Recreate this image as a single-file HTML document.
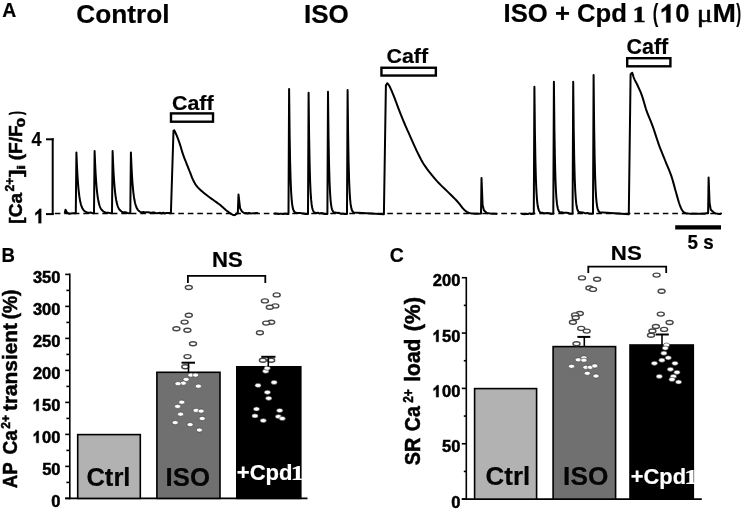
<!DOCTYPE html>
<html><head><meta charset="utf-8"><style>
html,body{margin:0;padding:0;background:#fff;}
svg{display:block;will-change:transform;filter:blur(0.3px);}
text{font-family:"Liberation Sans",sans-serif;font-weight:bold;stroke:#000;stroke-width:0.2px;}
text[fill="#fff"]{stroke:#fff;}
.sf{font-family:"Liberation Serif",serif;}
.rg{font-weight:normal;stroke-width:1px;}
.hv{stroke-width:0.6px;}
.mu{font-weight:normal;stroke-width:0.5px;}
.tk text,text.tk{stroke-width:0.5px;}
</style></head><body>
<svg width="744" height="510" viewBox="0 0 744 510">
<rect width="744" height="510" fill="#fff"/>
<g stroke="#000" stroke-width="2" fill="none">
<line x1="52.7" y1="138.3" x2="52.7" y2="215"/>
<line x1="46" y1="139.3" x2="53.7" y2="139.3"/>
<line x1="46" y1="214.1" x2="53.7" y2="214.1"/>
</g>
<g class="tk" transform="translate(21.7,223.6) rotate(-90)"><text x="-0.05" y="0" font-size="19" textLength="30.73" lengthAdjust="spacingAndGlyphs">[Ca</text><text x="32.07" y="-8.1" font-size="12.5" textLength="13.95" lengthAdjust="spacingAndGlyphs">2+</text><text x="46.62" y="0" font-size="19" textLength="7.41" lengthAdjust="spacingAndGlyphs">]</text><text x="53.98" y="3.3" font-size="11.5" textLength="4.85" lengthAdjust="spacingAndGlyphs">i</text><text x="63.25" y="0" font-size="19" textLength="34.92" lengthAdjust="spacingAndGlyphs">(F/F</text><text x="96.43" y="3.3" font-size="11.5" textLength="9.37" lengthAdjust="spacingAndGlyphs">0</text><text x="108.57" y="0" font-size="19" textLength="3.92" lengthAdjust="spacingAndGlyphs">)</text></g>
<line x1="54.8" y1="213.5" x2="722" y2="213.5" stroke="#000" stroke-width="1.3" stroke-dasharray="5.6 3.9"/>
<g stroke="#000" stroke-width="2" fill="none" stroke-linejoin="round">
<path d="M64.7 213.4 L65.5 209.8 L66.8 212.2 L69 213.8 L70.93 213.47 L72.87 213.15 L74.8 213.3 L75.8 213.3 L76.4 152.5 L76.9 164.6 L77.4 174.22 L77.9 181.88 L78.4 187.98 L78.9 192.84 L79.4 196.73 L79.9 199.84 L80.4 202.34 L80.9 204.34 L81.4 205.95 L81.9 207.25 L82.4 208.3 L82.9 209.16 L83.4 209.85 L83.9 210.42 L84.4 210.88 L84.9 211.26 L85.4 211.58 L85.9 211.84 L86.4 212.05 L86.9 212.23 L87.4 212.38 L89.27 212.82 L91.13 212.61 L93 213.3 L94 213.3 L94.6 151 L95.1 163.4 L95.6 173.26 L96.1 181.1 L96.6 187.35 L97.1 192.34 L97.6 196.32 L98.1 199.51 L98.6 202.07 L99.1 204.12 L99.6 205.77 L100.1 207.1 L100.6 208.18 L101.1 209.06 L101.6 209.77 L102.1 210.35 L102.6 210.82 L103.1 211.21 L103.6 211.53 L104.1 211.8 L104.6 212.02 L105.1 212.21 L105.6 212.36 L107.4 212.71 L109.2 212.87 L111 213.3 L112 213.3 L112.6 151 L113.1 163.4 L113.6 173.26 L114.1 181.1 L114.6 187.35 L115.1 192.34 L115.6 196.32 L116.1 199.51 L116.6 202.07 L117.1 204.12 L117.6 205.77 L118.1 207.1 L118.6 208.18 L119.1 209.06 L119.6 209.77 L120.1 210.35 L120.6 210.82 L121.1 211.21 L121.6 211.53 L122.1 211.8 L122.6 212.02 L123.1 212.21 L123.6 212.36 L125.5 212.28 L127.4 212.99 L129.3 213.3 L130.3 213.3 L130.9 152.4 L131.4 164.52 L131.9 174.16 L132.4 181.83 L132.9 187.94 L133.4 192.81 L133.9 196.7 L134.4 199.82 L134.9 202.32 L135.4 204.32 L135.9 205.94 L136.4 207.24 L136.9 208.3 L137.4 209.15 L137.9 209.85 L138.4 210.41 L138.9 210.88 L139.4 211.26 L139.9 211.57 L140.4 211.83 L140.9 212.05 L141.4 212.23 L141.9 212.38 L143.43 212.01 L144.95 212.42 L146.48 212.14 L148.01 212.21 L149.53 212.56 L151.06 212.97 L152.58 212.38 L154.11 212.52 L155.64 212.93 L157.16 213.27 L158.69 212.98 L160.22 212.87 L161.74 213.44 L163.27 212.65 L164.79 213.43 L166.32 212.97 L167.85 212.88 L169.37 212.91 L170.9 213.3 L173.5 130.8 L174.2 130.2 L174.48 130.77 L174.86 131.54 L175.32 132.46 L175.81 133.49 L176.32 134.58 L176.8 135.7 L177.26 136.86 L177.74 138.09 L178.23 139.38 L178.71 140.74 L179.21 142.15 L179.7 143.6 L180.2 145.15 L180.7 146.8 L181.2 148.51 L181.7 150.21 L182.2 151.86 L182.7 153.4 L183.18 154.79 L183.64 156.07 L184.09 157.3 L184.56 158.53 L185.06 159.81 L185.6 161.2 L186.19 162.72 L186.82 164.32 L187.48 165.97 L188.16 167.66 L188.83 169.34 L189.5 171 L190.16 172.68 L190.83 174.4 L191.5 176.13 L192.17 177.81 L192.84 179.38 L193.5 180.8 L194.13 182.04 L194.73 183.13 L195.33 184.12 L195.96 185.05 L196.64 185.96 L197.4 186.9 L198.27 187.86 L199.22 188.81 L200.23 189.74 L201.27 190.66 L202.3 191.54 L203.3 192.4 L204.27 193.22 L205.24 194.01 L206.2 194.78 L207.16 195.53 L208.13 196.27 L209.1 197 L210.08 197.72 L211.06 198.42 L212.04 199.11 L213.03 199.8 L214.02 200.49 L215 201.2 L215.98 201.91 L216.97 202.62 L217.95 203.34 L218.93 204.07 L219.92 204.82 L220.9 205.6 L221.87 206.43 L222.83 207.31 L223.79 208.21 L224.77 209.1 L225.76 209.98 L226.8 210.8 L227.93 211.64 L229.14 212.51 L230.38 213.37 L231.58 214.13 L232.68 214.73 L233.6 215.1 L234.35 215.17 L234.99 214.97 L235.53 214.62 L235.96 214.2 L236.32 213.83 L236.6 213.6 L237.8 213.4 L238.5 194.5 L240.1 208.3 L242 211.5 L244.4 213.2 L245.91 213.04 L247.42 213.51 L248.93 212.95 L250.44 213.32 L251.96 213.38 L253.47 213.15 L254.98 213.32 L256.49 212.9 L258 213.3"/>
<path d="M274 213.9 L275.5 213.5 L277 213.64 L278.5 214.06 L280 213.83 L281.5 213.73 L283 213.98 L284.5 213.86 L286 213.72 L287.5 213.9 L288.5 213.9 L289.1 89 L289.6 133.3 L290.1 161.62 L290.6 179.77 L291.1 191.43 L291.6 198.96 L292.1 203.84 L292.6 207.03 L293.1 209.13 L293.6 210.52 L294.1 211.46 L294.6 212.1 L295.1 212.55 L296.8 213.01 L298.5 213.11 L300.2 212.9 L301.9 213.39 L303.6 213.54 L305.3 214.04 L307 213.9 L308 213.9 L308.6 92.7 L309.1 135.69 L309.6 163.17 L310.1 180.78 L310.6 192.1 L311.1 199.4 L311.6 204.14 L312.1 207.23 L312.6 209.27 L313.1 210.62 L313.6 211.53 L314.1 212.16 L314.6 212.59 L316.29 212.98 L317.97 212.77 L319.66 213.58 L321.34 212.99 L323.03 213.45 L324.71 213.94 L326.4 213.9 L327.4 213.9 L328 91.7 L328.5 135.04 L329 162.75 L329.5 180.51 L330 191.92 L330.5 199.28 L331 204.06 L331.5 207.18 L332 209.23 L332.5 210.6 L333 211.51 L333.5 212.14 L334 212.58 L335.5 212.43 L337 212.9 L338.5 212.66 L340 213.39 L341.5 213.64 L343 213.63 L344.5 214.07 L346 213.9 L347 213.9 L347.6 90 L348.1 133.94 L348.6 162.04 L349.1 180.04 L349.6 191.61 L350.1 199.08 L350.6 203.92 L351.1 207.08 L351.6 209.17 L352.1 210.55 L352.6 211.48 L353.1 212.12 L353.6 212.56 L383.9 214.3 L385.9 85.3 L387.4 83.2 L387.64 83.51 L387.95 83.89 L388.32 84.36 L388.76 84.97 L389.26 85.77 L389.8 86.8 L390.42 88.11 L391.12 89.69 L391.88 91.44 L392.66 93.31 L393.44 95.22 L394.2 97.1 L394.92 98.93 L395.61 100.79 L396.31 102.67 L397.02 104.63 L397.78 106.66 L398.6 108.8 L399.5 111.09 L400.46 113.53 L401.46 116.05 L402.48 118.59 L403.5 121.1 L404.5 123.5 L405.47 125.77 L406.41 127.93 L407.36 130.06 L408.33 132.21 L409.34 134.44 L410.4 136.8 L411.53 139.35 L412.73 142.06 L413.96 144.85 L415.21 147.64 L416.46 150.35 L417.7 152.9 L418.88 155.26 L420 157.49 L421.12 159.64 L422.31 161.77 L423.62 163.93 L425.1 166.2 L426.8 168.6 L428.68 171.11 L430.68 173.65 L432.73 176.17 L434.79 178.61 L436.8 180.9 L438.8 183.06 L440.84 185.13 L442.88 187.11 L444.89 189.02 L446.81 190.85 L448.6 192.6 L450.26 194.25 L451.81 195.78 L453.27 197.23 L454.68 198.64 L456.05 200.05 L457.4 201.5 L458.73 203.04 L460.03 204.66 L461.29 206.28 L462.5 207.81 L463.68 209.18 L464.8 210.3 L465.84 211.15 L466.79 211.79 L467.7 212.26 L468.61 212.62 L469.56 212.92 L470.6 213.2 L471.83 213.44 L473.22 213.59 L474.66 213.68 L476.02 213.73 L477.18 213.76 L478 213.8 L481 213.4 L481.5 177.9 L482.6 205 L483.9 210.3 L487 213.2 L488.7 213.15 L490.4 213.61 L492.1 213.63 L493.8 213.74 L495.5 213.74 L497.2 213.9"/>
<path d="M521.4 213.8 L523.03 214.11 L524.66 214.2 L526.29 213.78 L527.91 213.95 L529.54 213.4 L531.17 213.98 L532.8 213.8 L533.8 213.8 L534.4 86.7 L534.9 131.78 L535.4 160.6 L535.9 179.07 L536.4 190.94 L536.9 198.6 L537.4 203.57 L537.9 206.81 L538.4 208.94 L538.9 210.36 L539.4 211.32 L539.9 211.97 L540.4 212.42 L542.1 212.75 L543.8 213.26 L545.5 213.3 L547.2 213.02 L548.9 213.3 L550.6 213.76 L552.3 213.8 L553.3 213.8 L553.9 81.7 L554.4 128.55 L554.9 158.51 L555.4 177.7 L555.9 190.04 L556.4 198 L556.9 203.16 L557.4 206.53 L557.9 208.75 L558.4 210.23 L558.9 211.22 L559.4 211.9 L559.9 212.37 L561.57 212.14 L563.24 212.74 L564.91 212.68 L566.59 212.84 L568.26 212.99 L569.93 213.84 L571.6 213.8 L572.6 213.8 L573.2 81.7 L573.7 128.55 L574.2 158.51 L574.7 177.7 L575.2 190.04 L575.7 198 L576.2 203.16 L576.7 206.53 L577.2 208.75 L577.7 210.23 L578.2 211.22 L578.7 211.9 L579.2 212.37 L580.8 212.21 L582.4 212.5 L584 212.81 L585.6 213.42 L587.2 212.89 L588.8 213.4 L590.4 213.67 L592 213.8 L593 213.8 L593.6 75 L594.1 124.23 L594.6 155.7 L595.1 175.87 L595.6 188.83 L596.1 197.2 L596.6 202.62 L597.1 206.17 L597.6 208.5 L598.1 210.05 L598.6 211.09 L599.1 211.8 L599.6 212.3 L628.8 214.3 L630.6 74.2 L632.2 72.7 L632.42 73.38 L632.71 74.31 L633.06 75.42 L633.45 76.61 L633.87 77.8 L634.3 78.9 L634.74 79.87 L635.2 80.77 L635.69 81.66 L636.22 82.62 L636.78 83.71 L637.4 85 L638.08 86.47 L638.82 88.08 L639.6 89.82 L640.4 91.69 L641.21 93.68 L642 95.8 L642.76 98.1 L643.51 100.59 L644.26 103.21 L645.03 105.9 L645.83 108.58 L646.7 111.2 L647.63 113.73 L648.63 116.22 L649.66 118.71 L650.71 121.24 L651.76 123.85 L652.8 126.6 L653.83 129.54 L654.86 132.65 L655.9 135.85 L656.94 139.05 L657.97 142.16 L659 145.1 L660.02 147.85 L661.04 150.46 L662.05 152.99 L663.06 155.48 L664.08 157.97 L665.1 160.5 L666.15 163.06 L667.22 165.61 L668.29 168.16 L669.35 170.71 L670.36 173.29 L671.3 175.9 L672.17 178.58 L672.99 181.35 L673.76 184.13 L674.49 186.87 L675.2 189.52 L675.9 192 L676.57 194.35 L677.2 196.63 L677.81 198.81 L678.41 200.87 L679 202.77 L679.6 204.5 L680.19 206.05 L680.74 207.46 L681.3 208.71 L681.88 209.81 L682.5 210.77 L683.2 211.6 L683.89 212.25 L684.53 212.71 L685.23 213.03 L686.06 213.26 L687.12 213.43 L688.5 213.6 L690.39 213.75 L692.75 213.83 L695.34 213.86 L697.93 213.86 L700.26 213.83 L702.1 213.8 L703.44 213.74 L704.47 213.64 L705.25 213.51 L705.84 213.39 L706.3 213.27 L706.7 213.2 L708.1 213.2 L708.6 177.5 L709.6 203 L710.8 209.8 L714.4 212.9 L716.1 213.47 L717.8 213.64 L719.5 213.9 L721.2 213.8"/>
</g>
<g stroke="#000" stroke-width="2.4" fill="#fff">
<rect x="171" y="113.4" width="42" height="8.3"/>
<rect x="381.45" y="67.75" width="54.4" height="7.8"/>
<rect x="627.2" y="58.2" width="43.2" height="8.1"/>
</g>
<line x1="675.2" y1="227.4" x2="721" y2="227.4" stroke="#000" stroke-width="4.2"/>

<g class="tk" transform="translate(17.1,487.6) rotate(-90)"><text x="-0.67" y="0" font-size="20" textLength="26.01" lengthAdjust="spacingAndGlyphs">AP</text><text x="33.14" y="0" font-size="20" textLength="24.44" lengthAdjust="spacingAndGlyphs">Ca</text><text x="58.88" y="-7.5" font-size="13" textLength="13.74" lengthAdjust="spacingAndGlyphs">2+</text><text x="76.64" y="0" font-size="20" textLength="87.84" lengthAdjust="spacingAndGlyphs">transient</text><text x="168.34" y="0" font-size="20" textLength="29.71" lengthAdjust="spacingAndGlyphs">(%)</text></g>
<g stroke="#000" stroke-width="1.6">
<line x1="69.8" y1="273.6" x2="69.8" y2="499.2"/>
<line x1="65.2" y1="498.4" x2="307.5" y2="498.4"/>
<line x1="65.2" y1="498.4" x2="69.8" y2="498.4"/><line x1="66.4" y1="482.4" x2="69.8" y2="482.4"/><line x1="65.2" y1="466.4" x2="69.8" y2="466.4"/><line x1="66.4" y1="450.4" x2="69.8" y2="450.4"/><line x1="65.2" y1="434.4" x2="69.8" y2="434.4"/><line x1="66.4" y1="418.4" x2="69.8" y2="418.4"/><line x1="65.2" y1="402.4" x2="69.8" y2="402.4"/><line x1="66.4" y1="386.4" x2="69.8" y2="386.4"/><line x1="65.2" y1="370.4" x2="69.8" y2="370.4"/><line x1="66.4" y1="354.4" x2="69.8" y2="354.4"/><line x1="65.2" y1="338.4" x2="69.8" y2="338.4"/><line x1="66.4" y1="322.4" x2="69.8" y2="322.4"/><line x1="65.2" y1="306.4" x2="69.8" y2="306.4"/><line x1="66.4" y1="290.4" x2="69.8" y2="290.4"/><line x1="65.2" y1="274.4" x2="69.8" y2="274.4"/>
</g>
<g class="tk"><text x="60.48" y="506.85" text-anchor="end" font-size="16.5">0</text><text x="60.5" y="474.85" text-anchor="end" font-size="16.5">50</text><text x="60.48" y="442.85" text-anchor="end" font-size="16.5">00</text><path transform="translate(32.95,442.85) scale(16.5,16.5)" d="M0.345 -0.716 L0.345 0 L0.205 0 L0.205 -0.50 C0.15 -0.45 0.10 -0.42 0.05 -0.39 L0.05 -0.52 C0.12 -0.56 0.20 -0.63 0.255 -0.716 Z" fill="#000" stroke="#000" stroke-width="0.0303"/><text x="60.48" y="410.85" text-anchor="end" font-size="16.5">50</text><path transform="translate(32.95,410.85) scale(16.5,16.5)" d="M0.345 -0.716 L0.345 0 L0.205 0 L0.205 -0.50 C0.15 -0.45 0.10 -0.42 0.05 -0.39 L0.05 -0.52 C0.12 -0.56 0.20 -0.63 0.255 -0.716 Z" fill="#000" stroke="#000" stroke-width="0.0303"/><text x="60.48" y="378.85" text-anchor="end" font-size="16.5">200</text><text x="60.48" y="346.85" text-anchor="end" font-size="16.5">250</text><text x="60.48" y="314.85" text-anchor="end" font-size="16.5">300</text><text x="60.48" y="282.85" text-anchor="end" font-size="16.5">350</text></g>
<g stroke="#000" stroke-width="1.6">
<rect x="77.7" y="434.6" width="62.6" height="63.8" fill="#b2b2b2"/>
<rect x="156.9" y="372.3" width="63.1" height="126.1" fill="#707070"/>
<rect x="236.8" y="366.8" width="64" height="131.6" fill="#000"/>
</g>
<svg x="236.3" y="440" width="64.5" height="58" overflow="hidden"><g transform="translate(-236.3,-440)"><text x="236.76" y="480.4" font-size="21.6" textLength="55.78" lengthAdjust="spacingAndGlyphs" fill="#fff">+Cpd</text><text class="sf" x="290.82" y="480.4" font-size="21.5" textLength="13.61" lengthAdjust="spacingAndGlyphs" fill="#fff">1</text></g></svg>
<path d="M187.9 283 V275.8 H265.3 V283" stroke="#000" stroke-width="1.8" fill="none"/>

<g class="tk" transform="translate(420.4,465.8) rotate(-90)"><text x="0.51" y="0" font-size="21.7" textLength="27.52" lengthAdjust="spacingAndGlyphs">SR</text><text x="34.62" y="0" font-size="21.7" textLength="25.05" lengthAdjust="spacingAndGlyphs">Ca</text><text x="62.98" y="-7.1" font-size="14" textLength="13.63" lengthAdjust="spacingAndGlyphs">2+</text><text x="84.03" y="0" font-size="21.7" textLength="43.26" lengthAdjust="spacingAndGlyphs">load</text><text x="134.6" y="0" font-size="21.7" textLength="34.2" lengthAdjust="spacingAndGlyphs">(%)</text></g>
<g stroke="#000" stroke-width="1.6">
<line x1="466.3" y1="277" x2="466.3" y2="499.9"/>
<line x1="461.8" y1="499.1" x2="701.8" y2="499.1"/>
<line x1="461.8" y1="499.1" x2="466.3" y2="499.1"/><line x1="463.8" y1="471.43" x2="466.3" y2="471.43"/><line x1="461.8" y1="443.75" x2="466.3" y2="443.75"/><line x1="463.8" y1="416.07" x2="466.3" y2="416.07"/><line x1="461.8" y1="388.4" x2="466.3" y2="388.4"/><line x1="463.8" y1="360.73" x2="466.3" y2="360.73"/><line x1="461.8" y1="333.05" x2="466.3" y2="333.05"/><line x1="463.8" y1="305.38" x2="466.3" y2="305.38"/><line x1="461.8" y1="277.7" x2="466.3" y2="277.7"/>
</g>
<g class="tk"><text x="460.38" y="507.8" text-anchor="end" font-size="16.5">0</text><text x="460.4" y="452.45" text-anchor="end" font-size="16.5">50</text><text x="460.38" y="397.1" text-anchor="end" font-size="16.5">00</text><path transform="translate(432.85,397.1) scale(16.5,16.5)" d="M0.345 -0.716 L0.345 0 L0.205 0 L0.205 -0.50 C0.15 -0.45 0.10 -0.42 0.05 -0.39 L0.05 -0.52 C0.12 -0.56 0.20 -0.63 0.255 -0.716 Z" fill="#000" stroke="#000" stroke-width="0.0303"/><text x="460.38" y="341.75" text-anchor="end" font-size="16.5">50</text><path transform="translate(432.85,341.75) scale(16.5,16.5)" d="M0.345 -0.716 L0.345 0 L0.205 0 L0.205 -0.50 C0.15 -0.45 0.10 -0.42 0.05 -0.39 L0.05 -0.52 C0.12 -0.56 0.20 -0.63 0.255 -0.716 Z" fill="#000" stroke="#000" stroke-width="0.0303"/><text x="460.38" y="286.4" text-anchor="end" font-size="16.5">200</text></g>
<g stroke="#000" stroke-width="1.6">
<rect x="474.6" y="388.6" width="62" height="110.5" fill="#b2b2b2"/>
<rect x="553.1" y="346.6" width="62.5" height="152.5" fill="#707070"/>
<rect x="630" y="345" width="63.3" height="154.1" fill="#000"/>
</g>
<svg x="630" y="440" width="63.5" height="59" overflow="hidden"><g transform="translate(-630,-440)"><text x="630.77" y="484.4" font-size="21.6" textLength="55.26" lengthAdjust="spacingAndGlyphs" fill="#fff">+Cpd</text><text class="sf" x="684.32" y="484.4" font-size="21.5" textLength="13.61" lengthAdjust="spacingAndGlyphs" fill="#fff">1</text></g></svg>
<path d="M588.3 273 V266.6 H666.2 V273" stroke="#000" stroke-width="1.8" fill="none"/>
<text x="2.21" y="17.1" font-size="19.9" textLength="14.01" lengthAdjust="spacingAndGlyphs">A</text><text x="76.35" y="22.7" font-size="25.5" textLength="93.18" lengthAdjust="spacingAndGlyphs">Control</text><text x="303.94" y="23.3" font-size="25.3" textLength="44.87" lengthAdjust="spacingAndGlyphs">ISO</text><text x="503.57" y="22.3" font-size="25.3" textLength="123.38" lengthAdjust="spacingAndGlyphs">ISO + Cpd</text><text class="sf hv" x="632.65" y="22.4" font-size="23.7" textLength="12.79" lengthAdjust="spacingAndGlyphs">1</text><text x="652.67" y="22.3" font-size="25.3" textLength="5.54" lengthAdjust="spacingAndGlyphs">(</text><text x="675.37" y="22.4" font-size="25.5" textLength="14.28" lengthAdjust="spacingAndGlyphs">0</text><path transform="translate(660.22,22.4) scale(29.58,25.5)" d="M0.345 -0.716 L0.345 0 L0.205 0 L0.205 -0.50 C0.15 -0.45 0.10 -0.42 0.05 -0.39 L0.05 -0.52 C0.12 -0.56 0.20 -0.63 0.255 -0.716 Z" fill="#000" stroke="#000" stroke-width="0.0118"/><text class="sf mu" x="696.65" y="22.3" font-size="25" textLength="15.99" lengthAdjust="spacingAndGlyphs">μ</text><text x="712.5" y="22.3" font-size="25.3" textLength="23.44" lengthAdjust="spacingAndGlyphs">M</text><text x="736.26" y="22.3" font-size="25.3" textLength="4.88" lengthAdjust="spacingAndGlyphs">)</text><text x="31.43" y="145.6" font-size="20" textLength="9.98" lengthAdjust="spacingAndGlyphs">4</text><path transform="translate(34.28,223.3) scale(20.3,20.3)" d="M0.345 -0.716 L0.345 0 L0.205 0 L0.205 -0.50 C0.15 -0.45 0.10 -0.42 0.05 -0.39 L0.05 -0.52 C0.12 -0.56 0.20 -0.63 0.255 -0.716 Z" fill="#000" stroke="#000" stroke-width="0.0099"/><text x="172.04" y="110" font-size="20.6" textLength="41.59" lengthAdjust="spacingAndGlyphs">Caff</text><text x="386.44" y="62.7" font-size="20.8" textLength="41.59" lengthAdjust="spacingAndGlyphs">Caff</text><text x="626.54" y="53.5" font-size="21.2" textLength="41.69" lengthAdjust="spacingAndGlyphs">Caff</text><text x="687.53" y="248.6" font-size="19.8" textLength="26.22" lengthAdjust="spacingAndGlyphs">5 s</text><text x="1.59" y="261.9" font-size="20.7" textLength="13.44" lengthAdjust="spacingAndGlyphs">B</text><text x="389.72" y="262.2" font-size="20.6" textLength="14.11" lengthAdjust="spacingAndGlyphs">C</text><text x="211.91" y="266.7" font-size="21.3" textLength="30.76" lengthAdjust="spacingAndGlyphs">NS</text><text x="610.89" y="260.1" font-size="20.9" textLength="30.98" lengthAdjust="spacingAndGlyphs">NS</text><text x="86.38" y="486.2" font-size="25.8" textLength="44.11" lengthAdjust="spacingAndGlyphs" fill="#050505">Ctrl</text><text x="165.56" y="486.3" font-size="25.9" textLength="44.44" lengthAdjust="spacingAndGlyphs" fill="#050505">ISO</text><text x="485.56" y="484.9" font-size="25.4" textLength="44.64" lengthAdjust="spacingAndGlyphs" fill="#050505">Ctrl</text><text x="563.13" y="484.9" font-size="25.3" textLength="45.19" lengthAdjust="spacingAndGlyphs" fill="#050505">ISO</text>
<g fill="#fff" stroke="#444" stroke-width="1.4"><ellipse cx="188.8" cy="287.45" rx="3.5" ry="2"/><ellipse cx="188.8" cy="315.2" rx="3.5" ry="2"/><ellipse cx="184.6" cy="322.1" rx="3.5" ry="2"/><ellipse cx="176.4" cy="328.7" rx="3.5" ry="2"/><ellipse cx="187.4" cy="330.2" rx="3.5" ry="2"/><ellipse cx="193" cy="343.7" rx="3.5" ry="2"/><ellipse cx="187.5" cy="356.6" rx="3.5" ry="2"/><ellipse cx="185.3" cy="366.8" rx="3.5" ry="2"/><ellipse cx="276.7" cy="294.9" rx="3.5" ry="2"/><ellipse cx="264.9" cy="300.9" rx="3.5" ry="2"/><ellipse cx="275.3" cy="305.9" rx="3.5" ry="2"/><ellipse cx="269.8" cy="307.2" rx="3.5" ry="2"/><ellipse cx="271.2" cy="322.3" rx="3.5" ry="2"/><ellipse cx="266.2" cy="323.1" rx="3.5" ry="2"/><ellipse cx="259.9" cy="332.8" rx="3.5" ry="2"/><ellipse cx="262.9" cy="360.2" rx="3.5" ry="2"/><ellipse cx="271.2" cy="360.2" rx="3.5" ry="2"/><ellipse cx="582" cy="277.9" rx="3.5" ry="2"/><ellipse cx="597.1" cy="279.2" rx="3.5" ry="2"/><ellipse cx="589.4" cy="288" rx="3.5" ry="2"/><ellipse cx="593" cy="289.4" rx="3.5" ry="2"/><ellipse cx="579.8" cy="313.5" rx="3.5" ry="2"/><ellipse cx="575.1" cy="314.9" rx="3.5" ry="2"/><ellipse cx="575.7" cy="317.7" rx="3.5" ry="2"/><ellipse cx="572.9" cy="322.3" rx="3.5" ry="2"/><ellipse cx="581.2" cy="328.4" rx="3.5" ry="2"/><ellipse cx="586.7" cy="331.1" rx="3.5" ry="2"/><ellipse cx="576.5" cy="343.7" rx="3.5" ry="2"/><ellipse cx="656.6" cy="275.1" rx="3.5" ry="2"/><ellipse cx="661.6" cy="291.3" rx="3.5" ry="2"/><ellipse cx="660.8" cy="314.1" rx="3.5" ry="2"/><ellipse cx="669.6" cy="322.5" rx="3.5" ry="2"/><ellipse cx="655.9" cy="326.5" rx="3.5" ry="2"/><ellipse cx="652.4" cy="331" rx="3.5" ry="2"/><ellipse cx="664.1" cy="329.4" rx="3.5" ry="2"/><ellipse cx="651" cy="335.3" rx="3.5" ry="2"/></g>
<g fill="#fff" stroke="#333" stroke-width="0.6"><ellipse cx="190.9" cy="375.1" rx="3.1" ry="2.1"/><ellipse cx="195.6" cy="375.1" rx="3.1" ry="2.1"/><ellipse cx="186.1" cy="379.4" rx="3.1" ry="2.1"/><ellipse cx="183.3" cy="383.2" rx="3.1" ry="2.1"/><ellipse cx="178" cy="383.7" rx="3.1" ry="2.1"/><ellipse cx="198.4" cy="386.2" rx="3.1" ry="2.1"/><ellipse cx="181.8" cy="402.2" rx="3.1" ry="2.1"/><ellipse cx="177.6" cy="406.4" rx="3.1" ry="2.1"/><ellipse cx="180.6" cy="414.2" rx="3.1" ry="2.1"/><ellipse cx="196.1" cy="410.4" rx="3.1" ry="2.1"/><ellipse cx="201.1" cy="411.1" rx="3.1" ry="2.1"/><ellipse cx="202.2" cy="418.5" rx="3.1" ry="2.1"/><ellipse cx="175.2" cy="422.6" rx="3.1" ry="2.1"/><ellipse cx="190.1" cy="424.6" rx="3.1" ry="2.1"/><ellipse cx="199.4" cy="430" rx="3.1" ry="2.1"/><ellipse cx="265.7" cy="371.2" rx="3.1" ry="2.1"/><ellipse cx="267.2" cy="368.2" rx="3.1" ry="2.1"/><ellipse cx="274.1" cy="382.4" rx="3.1" ry="2.1"/><ellipse cx="258" cy="385.4" rx="3.1" ry="2.1"/><ellipse cx="267.4" cy="392.3" rx="3.1" ry="2.1"/><ellipse cx="268.7" cy="398.3" rx="3.1" ry="2.1"/><ellipse cx="256.5" cy="409" rx="3.1" ry="2.1"/><ellipse cx="279.7" cy="410.5" rx="3.1" ry="2.1"/><ellipse cx="255" cy="415.9" rx="3.1" ry="2.1"/><ellipse cx="278.4" cy="416.6" rx="3.1" ry="2.1"/><ellipse cx="282.3" cy="418.5" rx="3.1" ry="2.1"/><ellipse cx="263.3" cy="420.6" rx="3.1" ry="2.1"/><ellipse cx="578.2" cy="359.8" rx="3.1" ry="2.1"/><ellipse cx="583.9" cy="357.8" rx="3.1" ry="2.1"/><ellipse cx="583.9" cy="360.2" rx="3.1" ry="2.1"/><ellipse cx="571.6" cy="366.3" rx="3.1" ry="2.1"/><ellipse cx="585.9" cy="367.3" rx="3.1" ry="2.1"/><ellipse cx="590.3" cy="367.3" rx="3.1" ry="2.1"/><ellipse cx="594.8" cy="365.9" rx="3.1" ry="2.1"/><ellipse cx="587.3" cy="373.3" rx="3.1" ry="2.1"/><ellipse cx="596" cy="376" rx="3.1" ry="2.1"/><ellipse cx="666.5" cy="345.1" rx="3.1" ry="2.1"/><ellipse cx="665.3" cy="348.1" rx="3.1" ry="2.1"/><ellipse cx="663.9" cy="353.2" rx="3.1" ry="2.1"/><ellipse cx="668.3" cy="357.8" rx="3.1" ry="2.1"/><ellipse cx="661.9" cy="360.2" rx="3.1" ry="2.1"/><ellipse cx="654.4" cy="363.3" rx="3.1" ry="2.1"/><ellipse cx="675" cy="363.3" rx="3.1" ry="2.1"/><ellipse cx="670.4" cy="369.3" rx="3.1" ry="2.1"/><ellipse cx="677" cy="372.3" rx="3.1" ry="2.1"/><ellipse cx="673.4" cy="376.4" rx="3.1" ry="2.1"/><ellipse cx="659.3" cy="376.4" rx="3.1" ry="2.1"/><ellipse cx="672" cy="379.4" rx="3.1" ry="2.1"/><ellipse cx="678.6" cy="382" rx="3.1" ry="2.1"/></g>
<g stroke="#000" stroke-width="1.6">
<line x1="188.5" y1="362.7" x2="188.5" y2="372.3"/>
<line x1="181.5" y1="362.7" x2="195" y2="362.7" stroke-width="2"/>
<line x1="268.3" y1="356.8" x2="268.3" y2="366.8"/>
<line x1="261.3" y1="356.8" x2="275.5" y2="356.8" stroke-width="2"/>
<line x1="584.3" y1="336.9" x2="584.3" y2="346.6"/>
<line x1="577.4" y1="336.9" x2="590.3" y2="336.9" stroke-width="2"/>
<line x1="662" y1="334.5" x2="662" y2="345"/>
<line x1="655.6" y1="334.5" x2="668.8" y2="334.5" stroke-width="2"/>
</g>
</svg>
</body></html>
